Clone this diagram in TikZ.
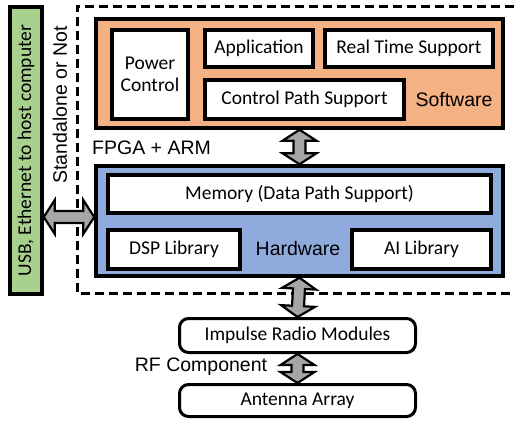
\documentclass[tikz,border=0pt]{standalone}
\usepackage{fontspec}
\setmainfont{Carlito}
\newfontfamily\arialfont{Liberation Sans}
\usetikzlibrary{calc}

\definecolor{swcolor}{HTML}{F4B183}
\definecolor{hwcolor}{HTML}{8FAADC}
\definecolor{hostcolor}{HTML}{A9D18E}
\definecolor{arrowgray}{HTML}{A6A6A6}

\tikzset{
  inbox/.style={draw, line width=3.5pt, fill=white, align=center, inner sep=0pt,
    font=\fontsize{19.5}{22}\selectfont},
  outbox/.style={draw, line width=3.5pt, inner sep=0pt},
  rfbox/.style={draw, line width=3pt, rounded corners=9pt, fill=white, inner sep=0pt,
    font=\fontsize{19.5}{22}\selectfont},
  label/.style={font=\arialfont\fontsize{19.5}{22}\selectfont, inner sep=0pt},
  fatarrow/.style={draw=black, line width=2.2pt, fill=arrowgray, line join=miter,
    to path={
      -- ($($(\tikztostart)!11pt!(\tikztotarget)$)!17pt!90:(\tikztotarget)$)
      -- ($($(\tikztostart)!11pt!(\tikztotarget)$)!6pt!90:(\tikztotarget)$)
      -- ($($(\tikztotarget)!11pt!(\tikztostart)$)!6pt!-90:(\tikztostart)$)
      -- ($($(\tikztotarget)!11pt!(\tikztostart)$)!17pt!-90:(\tikztostart)$)
      -- (\tikztotarget)
      -- ($($(\tikztotarget)!11pt!(\tikztostart)$)!17pt!90:(\tikztostart)$)
      -- ($($(\tikztotarget)!11pt!(\tikztostart)$)!6pt!90:(\tikztostart)$)
      -- ($($(\tikztostart)!11pt!(\tikztotarget)$)!6pt!-90:(\tikztotarget)$)
      -- ($($(\tikztostart)!11pt!(\tikztotarget)$)!17pt!-90:(\tikztotarget)$)
      -- cycle}}
}

\begin{document}
\begin{tikzpicture}[x=1pt, y=-1pt]
\useasboundingbox (0,0) rectangle (514,421);

% board outline
\draw[line width=3pt, dash pattern=on 9pt off 5pt] (514,6) -| (77,293) -- (514,293);

% host link
\node[outbox, fill=hostcolor, minimum width=32, minimum height=287] (host) at (26,150.5) {};
\node[rotate=90, font=\fontsize{19.5}{22}\selectfont] (hostlabel) at (host) {USB, Ethernet to host computer};
\node[label, rotate=90] (standalone) at (60,105) {Standalone or Not};

% software
\node[outbox, fill=swcolor, minimum width=407, minimum height=109] (sw) at (299.5,73.5) {};
\node[inbox, minimum width=76, minimum height=89] (power) at (150,74.5) {Power\\Control};
\node[inbox, minimum width=108, minimum height=37] (app) at (259,48.5) {Application};
\node[inbox, minimum width=168, minimum height=37] (rts) at (409,48.5) {Real Time Support};
\node[inbox, minimum width=199, minimum height=39] (cps) at (304.5,99.5) {Control Path Support};
\node[label] (swlabel) at (454,100) {Software};

\node[label, anchor=west] (fpga) at (92,148) {FPGA + ARM};

% hardware
\node[outbox, fill=hwcolor, minimum width=407, minimum height=110] (hw) at (299.5,221) {};
\node[inbox, minimum width=383, minimum height=38] (mem) at (299.5,194) {Memory (Data Path Support)};
\node[inbox, minimum width=132, minimum height=39] (dsp) at (174,249.5) {DSP Library};
\node[inbox, minimum width=139, minimum height=39] (ai) at (421.5,249.5) {AI Library};
\node[label] (hwlabel) at (298,249) {Hardware};

% radio
\node[rfbox, minimum width=236, minimum height=34] (imp) at (297.5,335.5) {Impulse Radio Modules};
\node[rfbox, minimum width=236, minimum height=32] (ant) at (297.5,400.5) {Antenna Array};
\node[label] (rf) at (201,367) {RF Component};

% links
\draw[fatarrow] (sw.south) to (hw.north);
\draw[fatarrow] (hw.south) to (imp.north);
\draw[fatarrow] (imp.south) to (ant.north);
\draw[fatarrow] (host.east |- hw.west) ++(0,-4) coordinate (hostport) (hostport) to ([yshift=4pt]hw.west);
\end{tikzpicture}
\end{document}
